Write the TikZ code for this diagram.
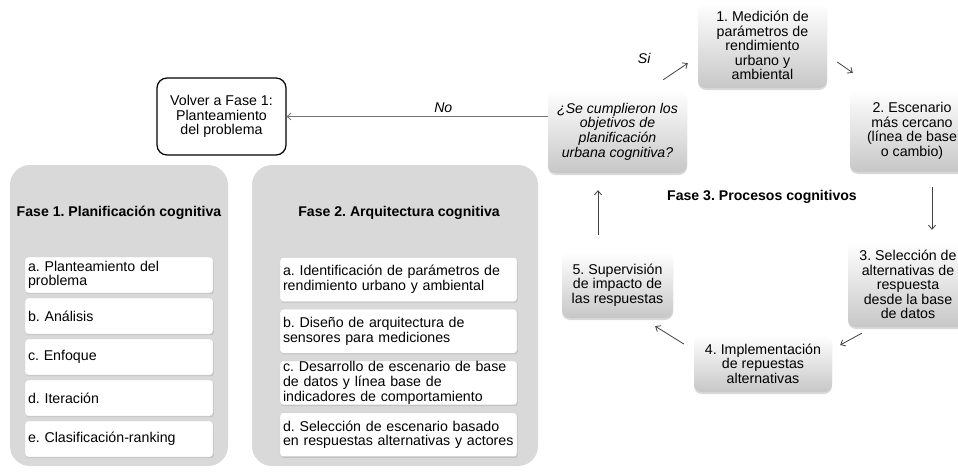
\documentclass[tikz,border=0pt]{standalone}
\usepackage{fontspec}
\setmainfont{Liberation Sans}
\usepackage{tikz}
\usetikzlibrary{shapes,shadows,arrows.meta}
\frenchspacing

\begin{document}
\begin{tikzpicture}[x=1pt, y=-1pt, node distance=41pt,
                every node/.style={font=\fontsize{14.2}{14.6}\selectfont},
                titulo/.style={font=\fontsize{14.1}{14.6}\selectfont\bfseries},
                etiqueta/.style={font=\fontsize{14.1}{14.6}\selectfont\itshape},
                fase/.style={rectangle, rounded corners=20pt, fill=black!15, minimum height=301pt},
                paso/.style={rectangle, rounded corners=3pt, fill=white, draw=black!20, inner xsep=3pt, inner ysep=0.5pt, align=left,
                    drop shadow={opacity=0.25, shadow xshift=0.8pt, shadow yshift=-1.2pt}},
                ciclo/.style={rectangle, rounded corners=8pt, top color=white, bottom color=black!22, inner sep=0pt, align=center,
                    drop shadow={opacity=0.3, shadow xshift=0pt, shadow yshift=-2pt}},
                flecha/.style={->, >={Straight Barb[length=4pt,width=7pt]}, draw=black!75, line width=0.8pt}]
                \useasboundingbox (0,0) rectangle (958,471);
                \node[draw, line width=1.2pt, rounded corners=10pt, fill=white, minimum width=129pt, minimum height=77pt, align=center] (volver) at (221.5,116.5) {Volver a Fase 1:\\Planteamiento\\del problema};
                % fase 1
                \node[fase, minimum width=218pt] (fase1) at (119,315.5) {};
                \node[titulo] (fase1titulo) at (119,213) {Fase 1. Planificación cognitiva};
                \node[paso, text width=182pt, minimum height=36pt] (planteamiento) at (119,275) {a. Planteamiento del\\problema};
                \node[paso, text width=182pt, minimum height=36pt] (analisis) [below of=planteamiento] {b. Análisis};
                \node[paso, text width=182pt, minimum height=36pt] (enfoque) [below of=analisis] {c. Enfoque};
                \node[paso, text width=182pt, minimum height=36pt] (iteracion) [below of=enfoque] {d. Iteración};
                \node[paso, text width=182pt, minimum height=36pt] (clasificacion) [below of=iteracion] {e. Clasificación-ranking};
                % fase 2
                \node[fase, minimum width=286pt] (fase2) at (395,315.5) {};
                \node[titulo] (fase2titulo) at (399,213) {Fase 2. Arquitectura cognitiva};
                \node[paso, text width=231pt, minimum height=44pt] (identificacion) at (398.5,279.5) {a. Identificación de parámetros de\\rendimiento urbano y ambiental};
                \node[paso, text width=231pt, minimum height=44pt, node distance=51.7pt] (diseno) [below of=identificacion] {b. Diseño de arquitectura de\\sensores para mediciones};
                \node[paso, text width=231pt, minimum height=44pt, node distance=51.7pt] (desarrollo) [below of=diseno] {c. Desarrollo de escenario de base\\de datos y línea base de\\indicadores de comportamiento};
                \node[paso, text width=231pt, minimum height=44pt, node distance=51.7pt] (escenariobase) [below of=desarrollo] {d. Selección de escenario basado\\en respuestas alternativas y actores};
                % fase 3
                \node[ciclo, etiqueta, minimum width=139pt, minimum height=83pt] (pregunta) at (617.5,131.5) {¿Se cumplieron los\\objetivos de\\planificación\\urbana cognitiva?};
                \node[ciclo, minimum width=129pt, minimum height=85pt] (medicion) at (762.5,45.5) {1. Medición de\\parámetros de\\rendimiento\\urbano y\\ambiental};
                \node[ciclo, minimum width=124pt, minimum height=82pt] (escenario) at (912,131) {2. Escenario\\más cercano\\(línea de base\\o cambio)};
                \node[ciclo, minimum width=120pt, minimum height=85pt] (seleccion) at (908,284.5) {3. Selección de\\alternativas de\\respuesta\\desde la base\\de datos};
                \node[ciclo, minimum width=138pt, minimum height=57pt] (implementacion) at (763,363.5) {4. Implementación\\de repuestas\\alternativas};
                \node[ciclo, minimum width=111pt, minimum height=66pt] (supervision) at (617.5,285) {5. Supervisión\\de impacto de\\las respuestas};
                \node[titulo] (fase3) at (762,197) {Fase 3. Procesos cognitivos};
                \path
                    ([xshift=-24pt,yshift=10pt]pregunta.north east) edge[flecha] node[etiqueta, pos=0, anchor=south east, xshift=-9pt, yshift=12pt] {Si} ([xshift=-10pt,yshift=25pt]medicion.south west)
                    ([xshift=10pt,yshift=-16.5pt]medicion.east) edge[flecha] ([xshift=3pt,yshift=17pt]escenario.north west)
                    ([xshift=20pt,yshift=-15pt]escenario.south) edge[flecha] ([xshift=24pt,yshift=12pt]seleccion.north)
                    ([xshift=14pt,yshift=-6pt]seleccion.south west) edge[flecha] ([xshift=8pt,yshift=18.5pt]implementacion.east)
                    ([xshift=-10pt,yshift=19.5pt]implementacion.west) edge[flecha] ([xshift=-18pt,yshift=-8pt]supervision.south east)
                    ([xshift=-19.5pt,yshift=17pt]supervision.north) edge[flecha] ([xshift=-19.5pt,yshift=-17pt]pregunta.south);
                \path (pregunta.west |- volver.east) edge[flecha, draw=black!55] node[etiqueta, above, pos=0.4] {No} (volver.east);
            \end{tikzpicture}
\end{document}
